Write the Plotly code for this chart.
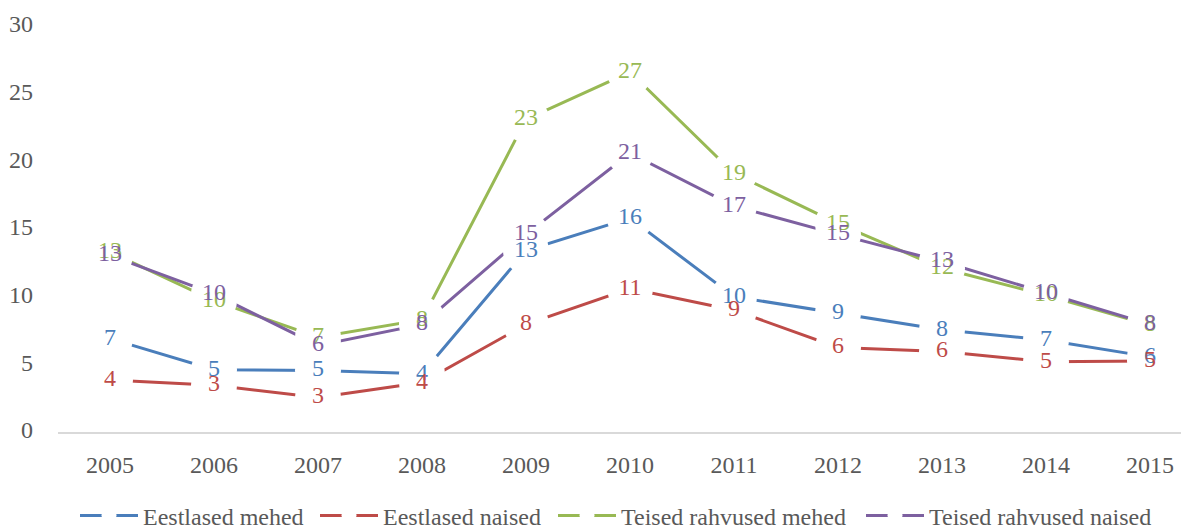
import plotly.graph_objects as go

years = ["2005", "2006", "2007", "2008", "2009", "2010", "2011", "2012", "2013", "2014", "2015"]
series_names = ["Eestlased mehed", "Eestlased naised", "Teised rahvused mehed", "Teised rahvused naised"]
eestlased_mehed = [6.9, 4.6, 4.55, 4.3, 13.4, 15.8, 10.0, 8.8, 7.55, 6.8, 5.55]
eestlased_naised = [3.85, 3.45, 2.55, 3.65, 7.95, 10.6, 9.0, 6.25, 5.95, 5.2, 5.25]
teised_mehed = [13.3, 9.7, 7.0, 8.3, 23.1, 26.6, 19.1, 15.4, 12.1, 10.1, 7.9]
teised_naised = [13.05, 10.2, 6.4, 7.95, 14.6, 20.6, 16.7, 14.6, 12.6, 10.3, 7.95]
colors = ["#4A7EBB", "#BE4B48", "#98B954", "#7D60A0"]

all_series = [eestlased_mehed, eestlased_naised, teised_mehed, teised_naised]
FONT = "Liberation Serif"

# page body has an 8px margin; figure is sized/placed so the plot lands where the reference has it
W, H = 1181, 524
PLOT_L, PLOT_T, PLOT_B = 50, 18, 424
legend_x_px = [67, 307, 545, 853]
legend_keys = ["legend", "legend2", "legend3", "legend4"]

fig = go.Figure()
for vals, c in zip(all_series, colors):
    fig.add_trace(go.Scatter(x=years, y=vals, mode="lines", line=dict(color=c, width=3),
                             showlegend=False, hoverinfo="skip"))
for vals, c in zip(all_series, colors):
    fig.add_trace(go.Scatter(x=years, y=vals, mode="markers",
                             marker=dict(color="white", size=46, line=dict(width=0)),
                             showlegend=False, hoverinfo="skip"))
for vals, c in zip(all_series, colors):
    fig.add_trace(go.Scatter(x=years, y=vals, mode="text",
                             text=[str(int(v + 0.5)) for v in vals],
                             textposition="middle center",
                             textfont=dict(family=FONT, size=24, color=c),
                             showlegend=False, hoverinfo="skip"))
for name, c, lk in zip(series_names, colors, legend_keys):
    fig.add_trace(go.Scatter(x=[None], y=[None], mode="lines+markers", name=name,
                             legend=lk,
                             line=dict(color=c, width=3),
                             marker=dict(color="white", size=15, line=dict(width=0))))

legend_style = dict(orientation="h", xanchor="left", yanchor="middle",
                    y=(H - 508) / H,
                    font=dict(family=FONT, size=24, color="#595959"), itemwidth=58,
                    bgcolor="rgba(0,0,0,0)")
layout_legends = {}
for lk, lx in zip(legend_keys, legend_x_px):
    layout_legends[lk] = dict(legend_style, x=lx / W)

fig.update_layout(
    width=W, height=H,
    margin=dict(l=0, r=0, t=0, b=0, autoexpand=False),
    plot_bgcolor="white", paper_bgcolor="white",
    font=dict(family=FONT, color="#595959"),
    showlegend=True,
    xaxis=dict(type="category", range=[-0.5, 10.375], domain=[PLOT_L / W, 1.0],
               showgrid=False, zeroline=False, automargin=False,
               showline=True, linecolor="#D9D9D9", linewidth=1.5, ticks="",
               tickfont=dict(family=FONT, size=24, color="#595959"), ticklabelstandoff=10),
    yaxis=dict(range=[0, 30], dtick=5, domain=[(H - PLOT_B) / H, (H - PLOT_T) / H],
               showgrid=False, zeroline=False, showline=False, automargin=False,
               ticks="", tickfont=dict(family=FONT, size=24, color="#595959"),
               ticklabelstandoff=24, ticklabelshift=-2),
    **layout_legends,
)

fig.write_html("out.html")
